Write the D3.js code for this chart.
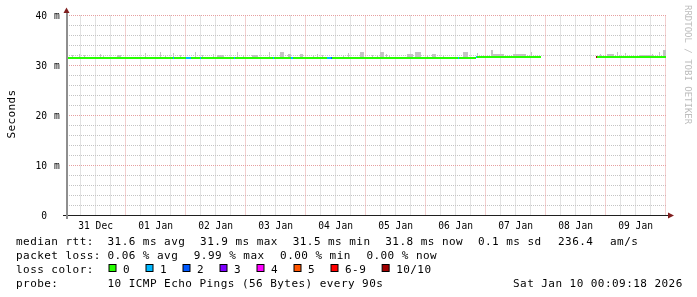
<!DOCTYPE html>
<html>
<head>
<meta charset="utf-8">
<script src="https://cdn.jsdelivr.net/npm/d3@7/dist/d3.min.js"></script>
<style>
  body { margin: 0; background: #fff; }
  svg { will-change: transform; }
  svg text { font-family: "DejaVu Sans Mono", monospace; }
</style>
</head>
<body>
<div id="chart"></div>
<script>
// smokeping graph, last 10 days (times are UTC, "MM-DD HH:MM")
const rangeStart = "12-31 00:09";
const rangeEnd = "01-10 00:09";
const dayTicks = ["12-31", "01-01", "01-02", "01-03", "01-04", "01-05", "01-06", "01-07", "01-08", "01-09"];
const yMajor = [0, 10, 20, 30, 40];

// median rtt (ms), piecewise
const medianStart = ["12-31 00:09", "01-06 20:10", "01-08 20:10"];
const medianEnd   = ["01-06 20:10", "01-07 22:00", "01-10 00:09"];
const medianMs    = [31.55, 31.75, 31.75];

// smoke (spread of the pings above the median)
const smokeStart = ["12-31 02:30","12-31 05:20","12-31 07:20","12-31 13:45","12-31 15:00","12-31 20:30",
  "01-01 07:45","01-01 13:45","01-01 15:45","01-01 19:00","01-01 21:45","01-02 03:45","01-02 06:35",
  "01-02 11:00","01-02 12:35","01-02 20:35","01-02 23:00","01-03 02:35","01-03 09:20","01-03 13:45",
  "01-03 17:00","01-03 21:45","01-04 03:00","01-04 04:35","01-04 06:35","01-04 15:00","01-04 17:00",
  "01-04 21:45","01-05 02:35","01-05 04:35","01-05 05:45","01-05 08:10","01-05 09:20","01-05 16:35",
  "01-05 19:45","01-06 00:35","01-06 02:35","01-06 07:00","01-06 15:00","01-06 20:35","01-07 02:10",
  "01-07 03:00","01-07 11:00","01-07 18:10","01-07 19:45","01-08 21:45","01-09 00:35","01-09 04:35",
  "01-09 07:45","01-09 13:45","01-09 18:35","01-09 21:20","01-09 23:00"];
const smokeEnd = ["12-31 02:55","12-31 05:45","12-31 07:45","12-31 14:10","12-31 15:25","12-31 22:10",
  "01-01 08:10","01-01 14:10","01-01 16:10","01-01 19:25","01-01 22:10","01-02 04:10","01-02 07:00",
  "01-02 11:25","01-02 15:25","01-02 21:00","01-02 23:25","01-03 05:00","01-03 09:45","01-03 15:25",
  "01-03 18:10","01-03 23:00","01-04 03:25","01-04 05:00","01-04 07:00","01-04 15:25","01-04 17:25",
  "01-04 23:25","01-05 03:00","01-05 05:00","01-05 07:25","01-05 08:35","01-05 09:45","01-05 19:00",
  "01-05 22:10","01-06 01:00","01-06 04:10","01-06 07:25","01-06 17:00","01-06 21:00","01-07 03:00",
  "01-07 07:25","01-07 16:10","01-07 18:35","01-07 20:10","01-08 22:10","01-09 03:25","01-09 05:00",
  "01-09 08:10","01-09 18:10","01-09 19:00","01-09 21:45","01-09 23:59"];
const smokeTop = [32.1,32.3,32.0,32.3,32.1,32.1,
  32.5,32.7,32.1,32.5,32.1,32.8,32.1,
  32.3,32.1,32.6,32.1,32.0,32.6,32.6,
  32.2,32.2,32.1,32.3,32.1,32.1,32.5,
  32.7,32.1,32.1,32.8,32.3,32.1,32.2,
  32.6,32.1,32.3,32.1,32.6,32.5,33.1,
  32.2,32.2,32.6,32.1,32.3,32.2,32.6,
  32.5,32.1,32.3,32.6,33.1];

// packet loss samples (index into lossLabels)
const lossStart = ["01-01 19:00","01-02 00:10","01-02 05:45","01-02 19:20","01-03 11:00","01-03 18:10",
  "01-04 08:35","01-04 10:10","01-06 13:00","01-06 20:10","01-08 20:10"];
const lossEnd = ["01-01 19:25","01-02 02:10","01-02 06:10","01-02 19:45","01-03 11:25","01-03 19:00",
  "01-04 10:10","01-04 10:35","01-06 13:25","01-06 20:35","01-08 20:35"];
const lossLevel = [1, 1, 1, 1, 1, 1, 1, 2, 1, 1, 7];

const lossLabels = ["0", "1", "2", "3", "4", "5", "6-9", "10/10"];
const lossColors = ["#26ff00", "#00b8ff", "#0059ff", "#7e00ff", "#ff00ff", "#ff5500", "#ff0000", "#a00000"];

const rttNames = ["avg", "max", "min", "now", "sd"];
const rttValues = [31.6, 31.9, 31.5, 31.8, 0.1];
const amPerSec = 236.4;
const lossNames = ["avg", "max", "min", "now"];
const lossValues = [0.06, 9.99, 0.00, 0.00];
const probeText = "10 ICMP Echo Pings (56 Bytes) every 90s";
const stampText = "Sat Jan 10 00:09:18 2026";

const W = 697, H = 297;
const parse = d3.utcParse("%Y-%m-%d %H:%M");
const t = s => {
  const full = s.length === 5 ? s + " 00:00" : s;
  return parse((full.startsWith("12") ? "2025-" : "2026-") + full);
};

const svg = d3.select("#chart").append("svg")
  .attr("width", W).attr("height", H)
  .style("display", "block");

const x = d3.scaleUtc().domain([t(rangeStart), t(rangeEnd)]).range([66, 666]);
const y = d3.scaleLinear().domain([0, 40]).range([215.5, 15.5]);
const px = d => Math.floor(x(d)) + 0.5;

// grid
const grid = svg.append("g").attr("stroke-dasharray", "1,1").attr("stroke-width", 1);
const minorX = d3.utcHour.every(6).range(t(rangeStart), t(rangeEnd))
  .filter(d => d.getUTCHours() !== 0);
grid.selectAll(".vminor").data(minorX).enter().append("line")
  .attr("x1", px).attr("x2", px).attr("y1", y(40)).attr("y2", y(0))
  .attr("stroke", "#c4c4c4");
const yMinor = d3.range(0, 41, 2).filter(v => v % 10 !== 0);
grid.selectAll(".hminor").data(yMinor).enter().append("line")
  .attr("x1", 67).attr("x2", 666).attr("y1", d => y(d)).attr("y2", d => y(d))
  .attr("stroke", "#c4c4c4");
const majorX = dayTicks.slice(1).map(t).concat([t("01-10")]);
grid.selectAll(".vmajor").data(majorX).enter().append("line")
  .attr("x1", px).attr("x2", px).attr("y1", y(40)).attr("y2", y(0))
  .attr("stroke", "#e6a0a0");
grid.selectAll(".hmajor").data(yMajor).enter().append("line")
  .attr("x1", 67).attr("x2", 666).attr("y1", d => y(d)).attr("y2", d => y(d))
  .attr("stroke", "#e6a0a0");

// median lookup
const medianAt = d => {
  for (let i = 0; i < medianStart.length; i++) {
    if (d >= t(medianStart[i]) && d < t(medianEnd[i])) return medianMs[i];
  }
  return medianMs[medianMs.length - 1];
};
const rx0 = s => Math.round(x(t(s)));
const rx1 = (s, e) => Math.max(rx0(s) + 1, Math.round(x(t(e))));

// smoke
svg.append("g").selectAll("rect").data(smokeTop).enter().append("rect")
  .attr("x", (d, i) => rx0(smokeStart[i]))
  .attr("width", (d, i) => rx1(smokeStart[i], smokeEnd[i]) - rx0(smokeStart[i]))
  .attr("y", d => Math.round(y(d)))
  .attr("height", (d, i) => Math.round(y(medianAt(t(smokeStart[i])))) - Math.round(y(d)))
  .attr("fill", "#c4c4c4");

// median line, coloured by loss
const lineY = v => Math.round(y(v)) - 1;
svg.append("g").selectAll("rect").data(medianMs).enter().append("rect")
  .attr("x", (d, i) => rx0(medianStart[i]))
  .attr("width", (d, i) => rx1(medianStart[i], medianEnd[i]) - rx0(medianStart[i]))
  .attr("y", d => lineY(d)).attr("height", 2)
  .attr("fill", lossColors[0]);
svg.append("g").selectAll("rect").data(lossLevel).enter().append("rect")
  .attr("x", (d, i) => rx0(lossStart[i]))
  .attr("width", (d, i) => rx1(lossStart[i], lossEnd[i]) - rx0(lossStart[i]))
  .attr("y", (d, i) => lineY(medianAt(t(lossStart[i])))).attr("height", 2)
  .attr("fill", d => lossColors[d]);

// axes
svg.append("line").attr("x1", 63).attr("x2", 669).attr("y1", 215.5).attr("y2", 215.5)
  .attr("stroke", "#1f1f1f");
svg.append("line").attr("x1", 67).attr("x2", 67).attr("y1", 219).attr("y2", 12)
  .attr("stroke", "#8f8f8f").attr("stroke-width", 2);
svg.append("path").attr("d", "M66.5,7.5L63.5,13L69.5,13Z").attr("fill", "#801f1f");
svg.append("path").attr("d", "M674,215.5L668,212.5L668,218.5Z").attr("fill", "#801f1f");

// y labels
const yl = svg.append("g").attr("font-size", "9.6px").attr("fill", "#000");
yl.selectAll(".num").data(yMajor).enter().append("text")
  .attr("class", "num")
  .attr("x", 47).attr("y", d => y(d) + 3.5).attr("text-anchor", "end")
  .text(d => d);
yl.selectAll(".unit").data(yMajor.filter(d => d > 0)).enter().append("text")
  .attr("class", "unit")
  .attr("x", 54).attr("y", d => y(d) + 3.5).attr("fill", "#000").text("m");

// x labels at noon
svg.append("g").attr("font-size", "9.6px").selectAll("text").data(dayTicks).enter().append("text")
  .attr("x", d => x(d3.utcHour.offset(t(d), 12)))
  .attr("y", 228.5).attr("text-anchor", "middle")
  .text(d => d3.utcFormat("%d %b")(t(d)));

// vertical label + watermark
svg.append("text").attr("transform", "translate(15,114) rotate(-90)")
  .attr("text-anchor", "middle").attr("font-size", "11px").attr("letter-spacing", "0.35px")
  .text("Seconds");
svg.append("text").attr("transform", "translate(684.5,5) rotate(90)")
  .attr("font-size", "9px").attr("fill", "#bdbdbd")
  .text("RRDTOOL / TOBI OETIKER");

// legend
const lg = svg.append("g").attr("font-size", "11px").attr("letter-spacing", "0.45px")
  .attr("fill", "#000").style("white-space", "pre");
const cw = 7.07;
lg.append("text").attr("x", 16).attr("y", 245).text("median rtt:");
rttValues.forEach((v, i) => {
  lg.append("text").attr("x", 107.5 + i * 92.6).attr("y", 245)
    .text(v.toFixed(1) + " ms " + rttNames[i]);
});
lg.append("text").attr("x", 558).attr("y", 245).text(amPerSec.toFixed(1));
lg.append("text").attr("x", 610).attr("y", 245).text("am/s");

lg.append("text").attr("x", 16).attr("y", 259).text("packet loss:");
lossValues.forEach((v, i) => {
  lg.append("text").attr("x", 107.5 + i * 86.3).attr("y", 259)
    .text(v.toFixed(2) + " % " + lossNames[i]);
});

lg.append("text").attr("x", 16).attr("y", 273).text("loss color:");
let sx = 108.5;
lossLabels.forEach((lab, i) => {
  lg.append("rect").attr("x", sx + 0.5).attr("y", 264.5).attr("width", 7).attr("height", 7)
    .attr("fill", lossColors[i]).attr("stroke", "#000").attr("stroke-width", 1);
  lg.append("text").attr("x", sx + 14.5).attr("y", 273).text(lab);
  sx += 37 + cw * (lab.length - 1);
});

lg.append("text").attr("x", 16).attr("y", 287).text("probe:");
lg.append("text").attr("x", 107.5).attr("y", 287).text(probeText);
lg.append("text").attr("x", 513).attr("y", 287).text(stampText);
</script>
</body>
</html>
